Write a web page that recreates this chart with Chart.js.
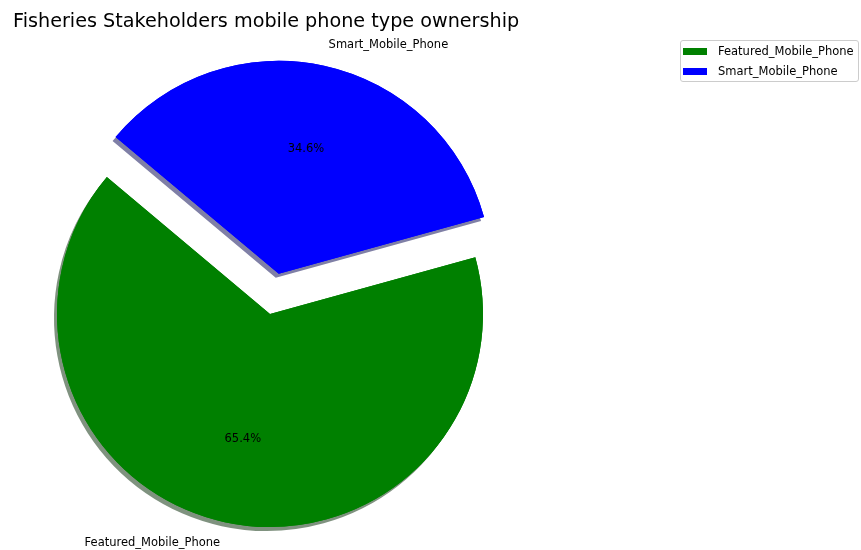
<!DOCTYPE html>
<html>
<head>
<meta charset="utf-8">
<title>Mobile phone type ownership</title>
<script src="https://cdn.jsdelivr.net/npm/chart.js@4.4.0/dist/chart.umd.min.js"></script>
<style>
  html, body { margin: 0; padding: 0; background: #fff; overflow: hidden; }
  #wrap { position: relative; width: 861px; height: 550px; }
  #myChart { position: absolute; left: 0; top: 0; }
  #wrap h2 {
    position: absolute; left: 13px; top: 11px; margin: 0; z-index: 1;
    font: normal 19.2px/19px "DejaVu Sans", sans-serif; color: #000; white-space: nowrap;
  }
  #legend {
    position: absolute; left: 680px; top: 40px; width: 177px; z-index: 1;
    border: 1px solid #cccccc; border-radius: 3px; background: rgba(255,255,255,0.8);
    font: 11.5px/20px "DejaVu Sans", sans-serif; color: #000;
  }
  #legend .item { display: flex; align-items: center; height: 20px; white-space: nowrap; }
  #legend .box { width: 24px; height: 7px; margin: 0 11px 0 2px; flex: none; }
</style>
</head>
<body>
<div id="wrap">
  <canvas id="myChart" width="861" height="550"></canvas>
  <h2>Fisheries Stakeholders mobile phone type ownership</h2>
  <div id="legend"></div>
</div>
<script>
const phoneTypes = ['Featured_Mobile_Phone', 'Smart_Mobile_Phone'];
const sharePct = [65.4, 34.6];
const explode = [0, 0.193];
const sliceColors = ['#008000', '#0000ff'];
const shadowColors = ['rgba(0,38,0,0.5)', 'rgba(0,0,77,0.5)'];

const startAngle = 140;   // degrees, counter-clockwise from 3 o'clock
const pieRadius = 213;
const labelFont = '11.5px "DejaVu Sans", sans-serif';

let total = sharePct.reduce((a, b) => a + b, 0);

const plugin = {
    id: 'custom_canvas_background_color',
    beforeDraw: (chart) => {
        const ctx = chart.ctx;
        ctx.save();
        ctx.fillStyle = 'white';
        ctx.fillRect(0, 0, chart.width, chart.height);
        ctx.restore();
    }
};

// where a slice sits once it is pushed out along its bisector
const sliceShift = (arc, i) => {
    const p = arc.getProps(['startAngle', 'endAngle', 'outerRadius']);
    const mid = (p.startAngle + p.endAngle) / 2;
    const d = explode[i] * p.outerRadius;
    return { mid: mid, dx: Math.cos(mid) * d, dy: Math.sin(mid) * d };
};

// draws the exploded slices itself (shadows first, then fills),
// Chart.js's own offset also swells the slice so it isn't used here
const pieDraw = {
    id: 'pieDraw',
    beforeDatasetDraw: (chart, args) => {
        const ctx = chart.ctx;
        const arcs = args.meta.data;
        [true, false].forEach((withShadow) => {
            arcs.forEach((arc, i) => {
                const s = sliceShift(arc, i);
                ctx.save();
                ctx.translate(s.dx, s.dy);
                if (withShadow) {
                    ctx.shadowColor = shadowColors[i];
                    ctx.shadowOffsetX = -3;
                    ctx.shadowOffsetY = 4;
                }
                arc.draw(ctx);
                ctx.restore();
            });
        });
        return false;
    },
    afterDatasetsDraw: (chart) => {
        const ctx = chart.ctx;
        ctx.save();
        ctx.font = labelFont;
        ctx.fillStyle = '#000';
        ctx.textBaseline = 'middle';
        chart.getDatasetMeta(0).data.forEach((arc, i) => {
            const s = sliceShift(arc, i);
            const cx = arc.x + s.dx;
            const cy = arc.y + s.dy;
            const r = arc.outerRadius;

            ctx.textAlign = Math.cos(s.mid) > 0 ? 'left' : 'right';
            ctx.fillText(phoneTypes[i], cx + Math.cos(s.mid) * r * 1.1, cy + Math.sin(s.mid) * r * 1.1);

            ctx.textAlign = 'center';
            ctx.fillText((sharePct[i] / total * 100).toFixed(1) + '%',
                cx + Math.cos(s.mid) * r * 0.6, cy + Math.sin(s.mid) * r * 0.6);
        });
        ctx.restore();
    }
};

const buildLegend = (chart) => {
    const items = chart.options.plugins.legend.labels.generateLabels(chart);
    let html = '';
    items.forEach((it) => {
        html += '<div class="item"><span class="box" style="background:' + it.fillStyle + '"></span>' + it.text + '</div>';
    });
    document.getElementById('legend').innerHTML = html;
};

const init = () => {
    var ctx = document.getElementById("myChart").getContext("2d");
    var myChart = new Chart(ctx, {
        type: "pie",
        plugins: [plugin, pieDraw],
        data: {
            labels: phoneTypes,
            datasets: [{
                data: sharePct,
                backgroundColor: sliceColors,
                borderWidth: 0
            }]
        },
        options: {
            responsive: false,
            animation: false,
            events: [],
            radius: pieRadius,
            rotation: 90 - startAngle - 360 * sharePct[0] / total,
            layout: {
                padding: { left: 0, right: 321, top: 79, bottom: 1 }
            },
            plugins: {
                tooltip: { enabled: false },
                title: { display: false },
                legend: { display: false }
            }
        }
    });
    buildLegend(myChart);
}

init();
</script>
</body>
</html>
